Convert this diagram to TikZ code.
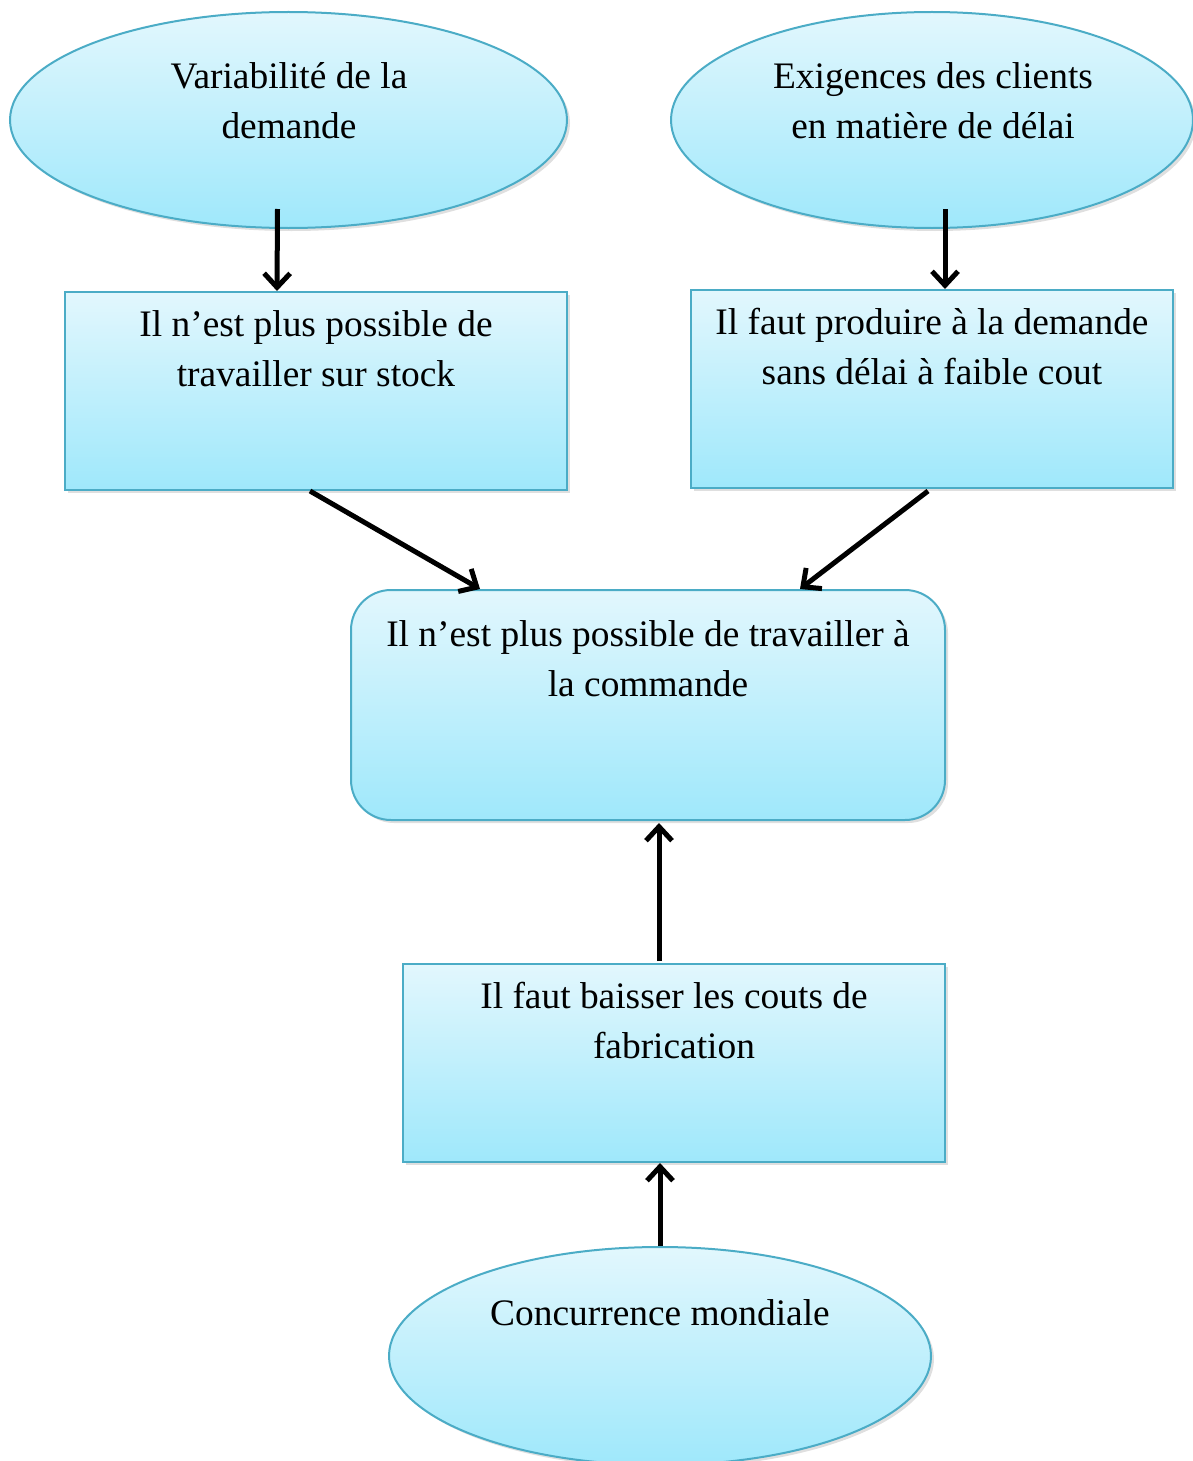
\documentclass[tikz,border=0pt]{standalone}
\usepackage{fontspec}
\setmainfont{Liberation Serif}
\usetikzlibrary{shapes.geometric,arrows.meta,calc,shadows}
\definecolor{bord}{HTML}{4BACC6}
\definecolor{topc}{HTML}{E2F7FD}
\definecolor{botc}{HTML}{9FE8FB}
\tikzset{
  shp/.style={draw=bord, line width=1pt, top color=topc, bottom color=botc, inner sep=0pt,
    drop shadow={shadow xshift=1.5pt, shadow yshift=-1.5pt, opacity=0.25}},
  ell/.style={shp, ellipse},
  box/.style={shp, rectangle},
  rbox/.style={shp, rectangle, rounded corners=20pt},
  txt/.style={align=center, font=\fontsize{18.7pt}{25pt}\selectfont, inner sep=0pt},
  arr/.style={line width=2.5pt, -{Straight Barb[length=7pt,width=13pt,line width=2.5pt]}}
}
\begin{document}
\begin{tikzpicture}[x=0.5pt,y=-0.5pt]
\useasboundingbox (0,0) rectangle (1193,1461);
\node[ell, minimum width=278.5pt, minimum height=108pt] (e1) at (288.5,120) {};
\node[ell, minimum width=261pt, minimum height=108pt] (e2) at (932,120) {};
\node[box, minimum width=251pt, minimum height=99pt] (r1) at (316,391) {};
\node[box, minimum width=241pt, minimum height=99pt] (r2) at (932,389) {};
\node[rbox, minimum width=297pt, minimum height=115pt] (rr) at (648,705) {};
\node[box, minimum width=271pt, minimum height=99pt] (r3) at (674,1063) {};
\node[ell, minimum width=271pt, minimum height=109pt] (e3) at (660,1356) {};

\node[txt] (t1) at (289,101) {Variabilité de la\\demande};
\node[txt] (t2) at (933,101) {Exigences des clients\\en matière de délai};
\node[txt] (t3) at (316,349) {Il n’est plus possible de\\travailler sur stock};
\node[txt] (t4) at (932,347) {Il faut produire à la demande\\sans délai à faible cout};
\node[txt] (t5) at (648,659) {Il n’est plus possible de travailler à\\la commande};
\node[txt] (t6) at (674,1021) {Il faut baisser les couts de\\fabrication};
\node[txt] (t7) at (660,1313) {Concurrence mondiale};

\draw[arr] ($(e1.south)+(-11,-20)$) -- ($(r1.north)+(-39,0)$);
\draw[arr] ($(e2.south)+(13,-20)$) -- ($(r2.north)+(13,0)$);
\draw[arr] ($(r1.south)+(-6,0)$) -- ($(rr.north)+(-168,0)$);
\draw[arr] ($(r2.south)+(-4,2)$) -- ($(rr.north)+(152,0)$);
\draw[arr] ($(r3.north)+(-15,-2)$) -- ($(rr.south)+(11,2)$);
\draw[arr] (e3.north) -- ($(r3.south)+(-14,0)$);
\end{tikzpicture}
\end{document}
